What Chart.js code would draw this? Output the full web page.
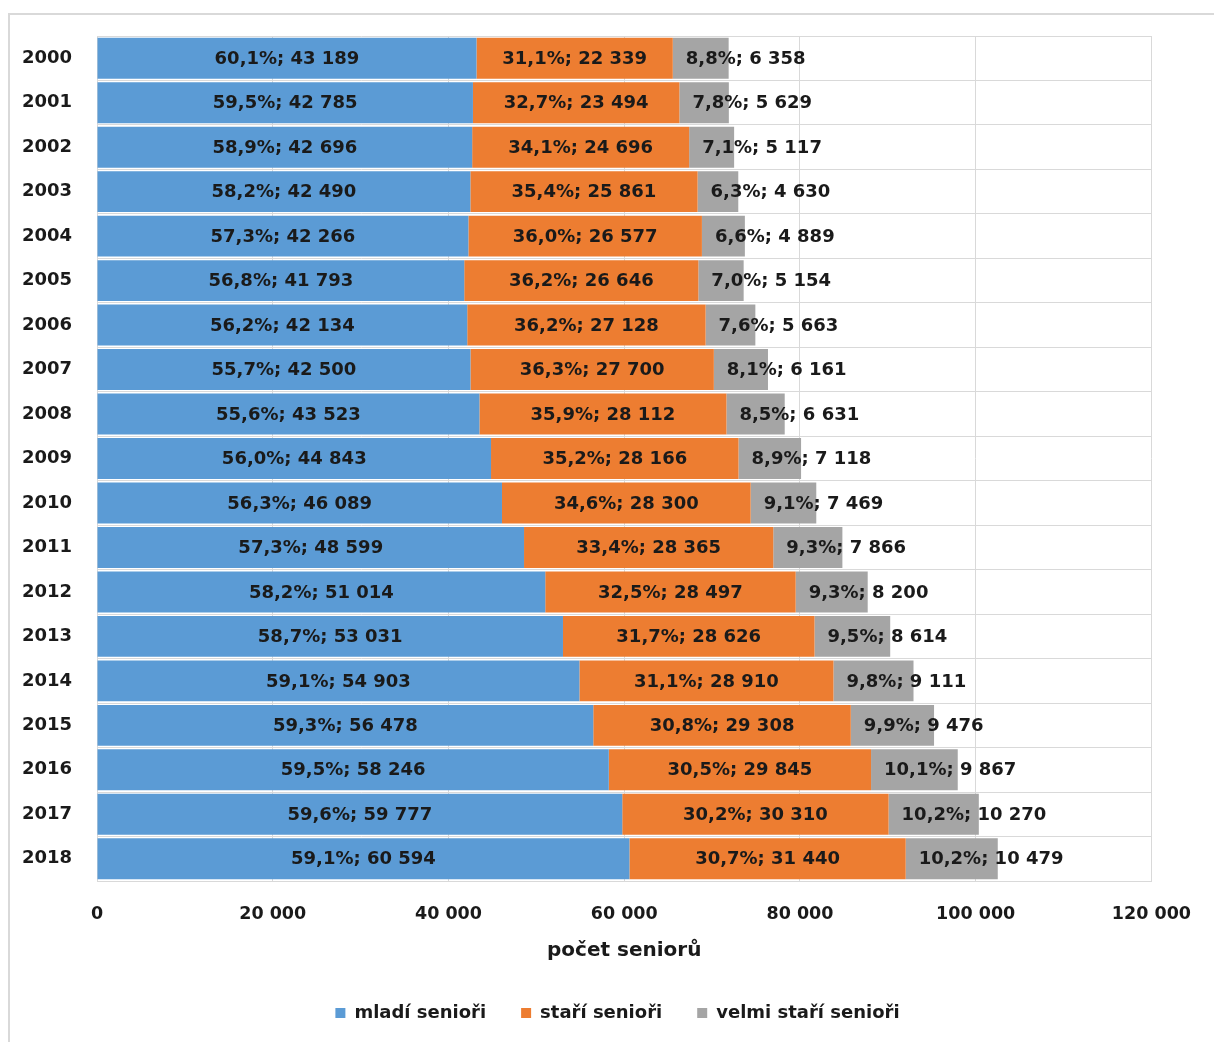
<!DOCTYPE html>
<html lang="cs">
<head>
<meta charset="utf-8">
<title>Počet seniorů 2000–2018</title>
<script src="https://cdn.jsdelivr.net/npm/chart.js@4.4.1/dist/chart.umd.min.js"></script>
<style>
  html, body { margin: 0; padding: 0; background: #fff; overflow: hidden; }
  #wrap { position: relative; width: 1214px; height: 1042px; }
  #ramecek {
    position: absolute; left: 8px; top: 13px; width: 1260px; height: 1100px;
    border: 2px solid #d9d9d9;
  }
  #graf { position: absolute; left: 0; top: 0; }
</style>
</head>
<body>
<div id="wrap">
  <div id="ramecek"></div>
  <canvas id="graf" width="1214" height="1042"></canvas>
</div>
<script>
const roky = ["2000", "2001", "2002", "2003", "2004", "2005", "2006", "2007", "2008", "2009",
              "2010", "2011", "2012", "2013", "2014", "2015", "2016", "2017", "2018"];

// počty seniorů podle skupin
const mladi = [43189, 42785, 42696, 42490, 42266, 41793, 42134, 42500, 43523, 44843,
               46089, 48599, 51014, 53031, 54903, 56478, 58246, 59777, 60594];
const stari = [22339, 23494, 24696, 25861, 26577, 26646, 27128, 27700, 28112, 28166,
               28300, 28365, 28497, 28626, 28910, 29308, 29845, 30310, 31440];
const velmiStari = [6358, 5629, 5117, 4630, 4889, 5154, 5663, 6161, 6631, 7118,
                    7469, 7866, 8200, 8614, 9111, 9476, 9867, 10270, 10479];

// podíly v procentech
const mladiPct = [60.1, 59.5, 58.9, 58.2, 57.3, 56.8, 56.2, 55.7, 55.6, 56.0,
                  56.3, 57.3, 58.2, 58.7, 59.1, 59.3, 59.5, 59.6, 59.1];
const stariPct = [31.1, 32.7, 34.1, 35.4, 36.0, 36.2, 36.2, 36.3, 35.9, 35.2,
                  34.6, 33.4, 32.5, 31.7, 31.1, 30.8, 30.5, 30.2, 30.7];
const velmiStariPct = [8.8, 7.8, 7.1, 6.3, 6.6, 7.0, 7.6, 8.1, 8.5, 8.9,
                       9.1, 9.3, 9.3, 9.5, 9.8, 9.9, 10.1, 10.2, 10.2];

const osaX = [0, 20000, 40000, 60000, 80000, 100000, 120000];

const PISMO = "'DejaVu Sans', sans-serif";
const TEXT = "#1a1a1a";
const MRIZKA = "#d9d9d9";

function cislo(n) {
    return String(n).replace(/\B(?=(\d{3})+(?!\d))/g, " ");
}

function procenta(p) {
    return p.toFixed(1).replace(".", ",") + "%";
}

// popisky v segmentech: první dvě skupiny na střed, třetí od začátku segmentu
const popisky = {
    id: "popisky",
    afterDatasetsDraw(chart) {
        const ctx = chart.ctx;
        const pcts = [mladiPct, stariPct, velmiStariPct];
        ctx.save();
        ctx.font = "bold 18px " + PISMO;
        ctx.fillStyle = TEXT;
        ctx.textBaseline = "middle";
        chart.data.datasets.forEach((ds, i) => {
            const meta = chart.getDatasetMeta(i);
            meta.data.forEach((bar, j) => {
                const p = bar.getProps(["x", "y", "base"], true);
                const text = procenta(pcts[i][j]) + "; " + cislo(ds.data[j]);
                if (i < 2) {
                    ctx.textAlign = "center";
                    ctx.fillText(text, (p.x + p.base) / 2, p.y + 1);
                } else {
                    ctx.textAlign = "left";
                    ctx.fillText(text, p.base + 13, p.y + 1);
                }
            });
        });
        ctx.restore();
    }
};

// legenda je vystředěná pod plochou grafu, ne pod celým plátnem
const posunLegendy = {
    id: "posunLegendy",
    afterLayout(chart) {
        const lg = chart.legend;
        if (lg) {
            lg.left += 31;
            lg.right += 31;
        }
    }
};

new Chart(document.getElementById("graf"), {
    type: "bar",
    data: {
        labels: roky,
        datasets: [
            { label: "mladí senioři", data: mladi, backgroundColor: "#5B9BD5" },
            { label: "staří senioři", data: stari, backgroundColor: "#ED7D31" },
            { label: "velmi staří senioři", data: velmiStari, backgroundColor: "#A5A5A5" }
        ]
    },
    options: {
        indexAxis: "y",
        responsive: false,
        animation: false,
        devicePixelRatio: 1,
        layout: { padding: { left: 20, right: 61, top: 36, bottom: 10 } },
        datasets: {
            bar: { categoryPercentage: 1, barPercentage: 0.92, borderWidth: 0 }
        },
        scales: {
            x: {
                stacked: true,
                min: 0,
                max: 120000,
                afterBuildTicks(scale) {
                    scale.ticks = osaX.map(v => ({ value: v }));
                },
                ticks: {
                    padding: 23,
                    color: TEXT,
                    font: { family: PISMO, size: 17.5, weight: "bold" },
                    callback: v => cislo(v)
                },
                grid: { color: MRIZKA, drawTicks: false },
                border: { color: MRIZKA },
                title: {
                    display: true,
                    text: "počet seniorů",
                    color: TEXT,
                    font: { family: PISMO, size: 20, weight: "bold" },
                    padding: { top: 12, bottom: 6 }
                },
                afterFit(scale) { scale.height = 88; }
            },
            y: {
                stacked: true,
                ticks: {
                    padding: 25,
                    color: TEXT,
                    font: { family: PISMO, size: 18, weight: "bold" }
                },
                grid: { color: MRIZKA, drawTicks: false, offset: true },
                border: { color: MRIZKA },
                afterFit(scale) { scale.width = 77; }
            }
        },
        plugins: {
            legend: {
                position: "bottom",
                labels: {
                    color: TEXT,
                    boxWidth: 10,
                    boxHeight: 10,
                    padding: 35,
                    font: { family: PISMO, size: 18, weight: "bold" }
                }
            },
            tooltip: { enabled: false }
        }
    },
    plugins: [popisky, posunLegendy]
});
</script>
</body>
</html>
